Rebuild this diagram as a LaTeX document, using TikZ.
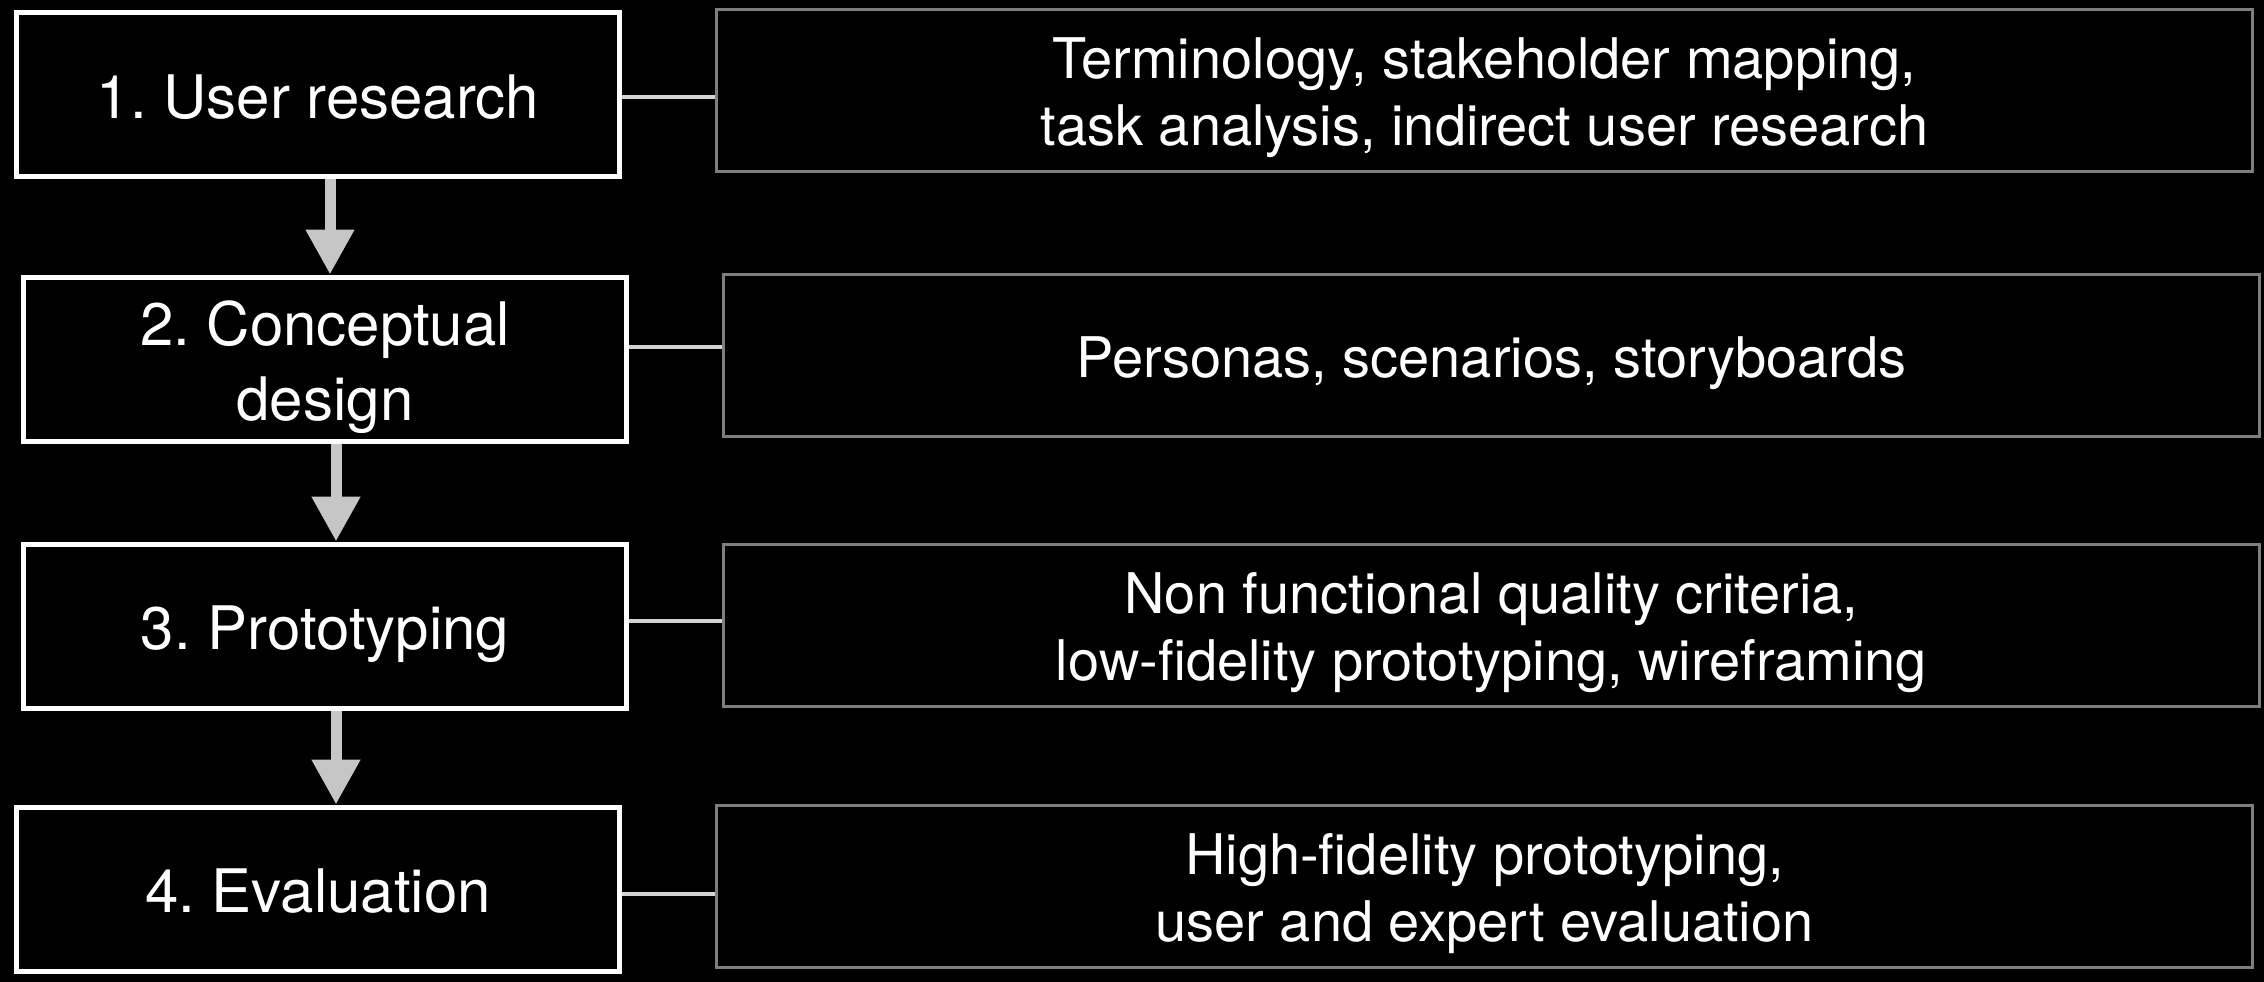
\documentclass[tikz,border=0pt]{standalone}
\usepackage{fontspec}
\setmainfont{TeX Gyre Heros}
\usetikzlibrary{arrows.meta}
\definecolor{boxgray}{HTML}{7E7E7E}
\definecolor{linkgray}{HTML}{D4D4D4}
\definecolor{arrowgray}{HTML}{C6C6C6}
% fixed line struts so every label is centred on its cap height
\newcommand{\stagestrut}{\rule[-14pt]{0pt}{75pt}}
\newcommand{\detailstrut}{\rule[-12pt]{0pt}{68pt}}
\begin{document}
\frenchspacing
\lineskiplimit=-30pt
\begin{tikzpicture}[x=1pt,y=-1pt,
  stage/.style={draw=white, line width=5pt, fill=black, text=white,
    minimum width=603pt, minimum height=164pt, inner sep=0pt, align=center,
    font=\fontsize{60}{75}\selectfont},
  detail/.style={draw=boxgray, line width=3pt, fill=black, text=white,
    minimum width=1536pt, minimum height=162pt, inner sep=0pt, align=center,
    font=\fontsize{56}{67}\selectfont},
  link/.style={draw=linkgray, line width=4pt},
  flow/.style={draw=arrowgray, line width=11pt,
    -{Triangle[width=46pt,length=45pt]}}
]
% canvas
\fill[black] (0,0) rectangle (2264,982);

% process stages
\node[stage] (b1) at (318,94.5) {\stagestrut 1. User research};
\node[stage] (b2) at (325,359) {\stagestrut 2. Conceptual\\\stagestrut design};
\node[stage] (b3) at (325,626) {\stagestrut 3. Prototyping};
\node[stage] (b4) at (318,889) {\stagestrut 4. Evaluation};

% methods for each stage
\node[detail] (r1) at (1484.5,90.5) {\detailstrut Terminology, stakeholder mapping,\\\detailstrut task analysis, indirect user research};
\node[detail] (r2) at (1491.5,355.5) {\detailstrut Personas, scenarios, storyboards};
\node[detail] (r3) at (1491.5,625) {\detailstrut Non functional quality criteria,\\\detailstrut low-fidelity prototyping, wireframing};
\node[detail] (r4) at (1484.5,886.5) {\detailstrut High-fidelity prototyping,\\\detailstrut user and expert evaluation};

% stage-to-method links
\draw[link] ([yshift=-2.5pt]b1.east) -- ([yshift=-2.5pt]b1.east -| r1.west);
\draw[link] ([yshift=12pt]b2.east) -- ([yshift=12pt]b2.east -| r2.west);
\draw[link] ([yshift=5pt]b3.east) -- ([yshift=5pt]b3.east -| r3.west);
\draw[link] ([yshift=-5pt]b4.east) -- ([yshift=-5pt]b4.east -| r4.west);

% flow between stages
\draw[flow] ([xshift=12pt]b1.south) -- ([xshift=5pt]b2.north);
\draw[flow] ([xshift=11pt]b2.south) -- ([xshift=11pt]b3.north);
\draw[flow] ([xshift=11pt]b3.south) -- ([xshift=18pt]b4.north);
\end{tikzpicture}
\end{document}
